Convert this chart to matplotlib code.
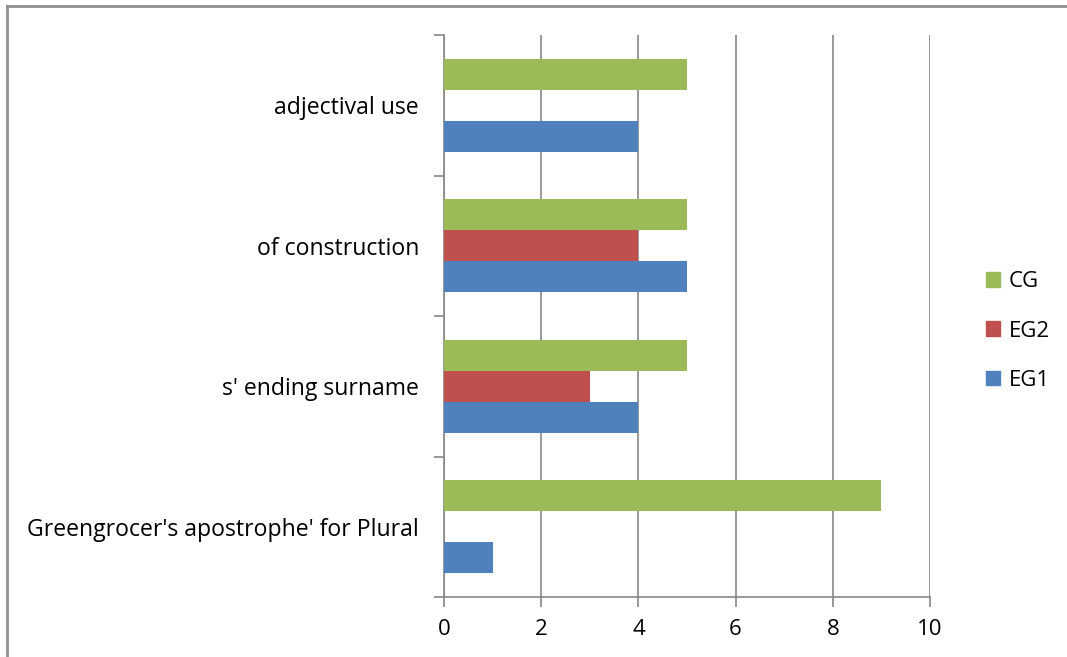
import matplotlib.pyplot as plt
from matplotlib.lines import Line2D
from matplotlib.patches import Patch
import numpy as np

categories = ["Greengrocer's apostrophe' for Plural", "s' ending surname",
              "of construction", "adjectival use"]
eg1 = [1, 4, 5, 4]
eg2 = [0, 3, 4, 0]
cg = [9, 5, 5, 5]
series_names = ["EG1", "EG2", "CG"]
colors = ["#4f81bd", "#c0504d", "#9bbb59"]

plt.rcParams['font.family'] = ['Open Sans', 'DejaVu Sans']
fs = 16

fig = plt.figure(figsize=(10.67, 6.57), dpi=100)
ax = fig.add_axes([444 / 1067, 1 - 597 / 657, (930 - 444) / 1067, (597 - 35) / 657])

y = np.arange(len(categories))
h = 0.22
for i, (vals, col) in enumerate(zip([eg1, eg2, cg], colors)):
    ax.barh(y + (i - 1) * h, vals, height=h, color=col, edgecolor='none', zorder=3)

ax.set_xlim(0, 10)
ax.set_ylim(-0.5, len(categories) - 0.5)
ax.set_xticks(range(0, 11, 2))
ax.set_yticks(y)
ax.set_yticklabels(categories)
ax.set_yticks(np.arange(-0.5, len(categories), 1), minor=True)
ax.tick_params(axis='y', which='major', length=0, pad=18, labelsize=16.6)
ax.tick_params(axis='y', which='minor', length=7, color='#868686', width=1.2)
ax.tick_params(axis='x', length=7, color='#868686', width=1.2, labelsize=fs, pad=9)
ax.grid(axis='x', color='#868686', linewidth=1.2, zorder=0)
for s in ['top', 'right']:
    ax.spines[s].set_visible(False)
for s in ['left', 'bottom']:
    ax.spines[s].set_color('#868686')
    ax.spines[s].set_linewidth(1.2)

handles = [Patch(color=colors[i], label=series_names[i]) for i in [2, 1, 0]]
fig.legend(handles=handles, loc='center left', bbox_to_anchor=(975 / 1067, 1 - 331 / 657),
           frameon=False, fontsize=fs, handlelength=0.62, handleheight=0.62,
           handletextpad=0.4, labelspacing=1.27, borderpad=0)

# chart frame, cut at the right and bottom edges
fig.add_artist(Line2D([7 / 1067, 1], [1 - 5.5 / 657, 1 - 5.5 / 657], color='#909090', lw=2))
fig.add_artist(Line2D([7 / 1067, 7 / 1067], [0, 1 - 5.5 / 657], color='#909090', lw=2))

fig.savefig('out.png', dpi=100)
